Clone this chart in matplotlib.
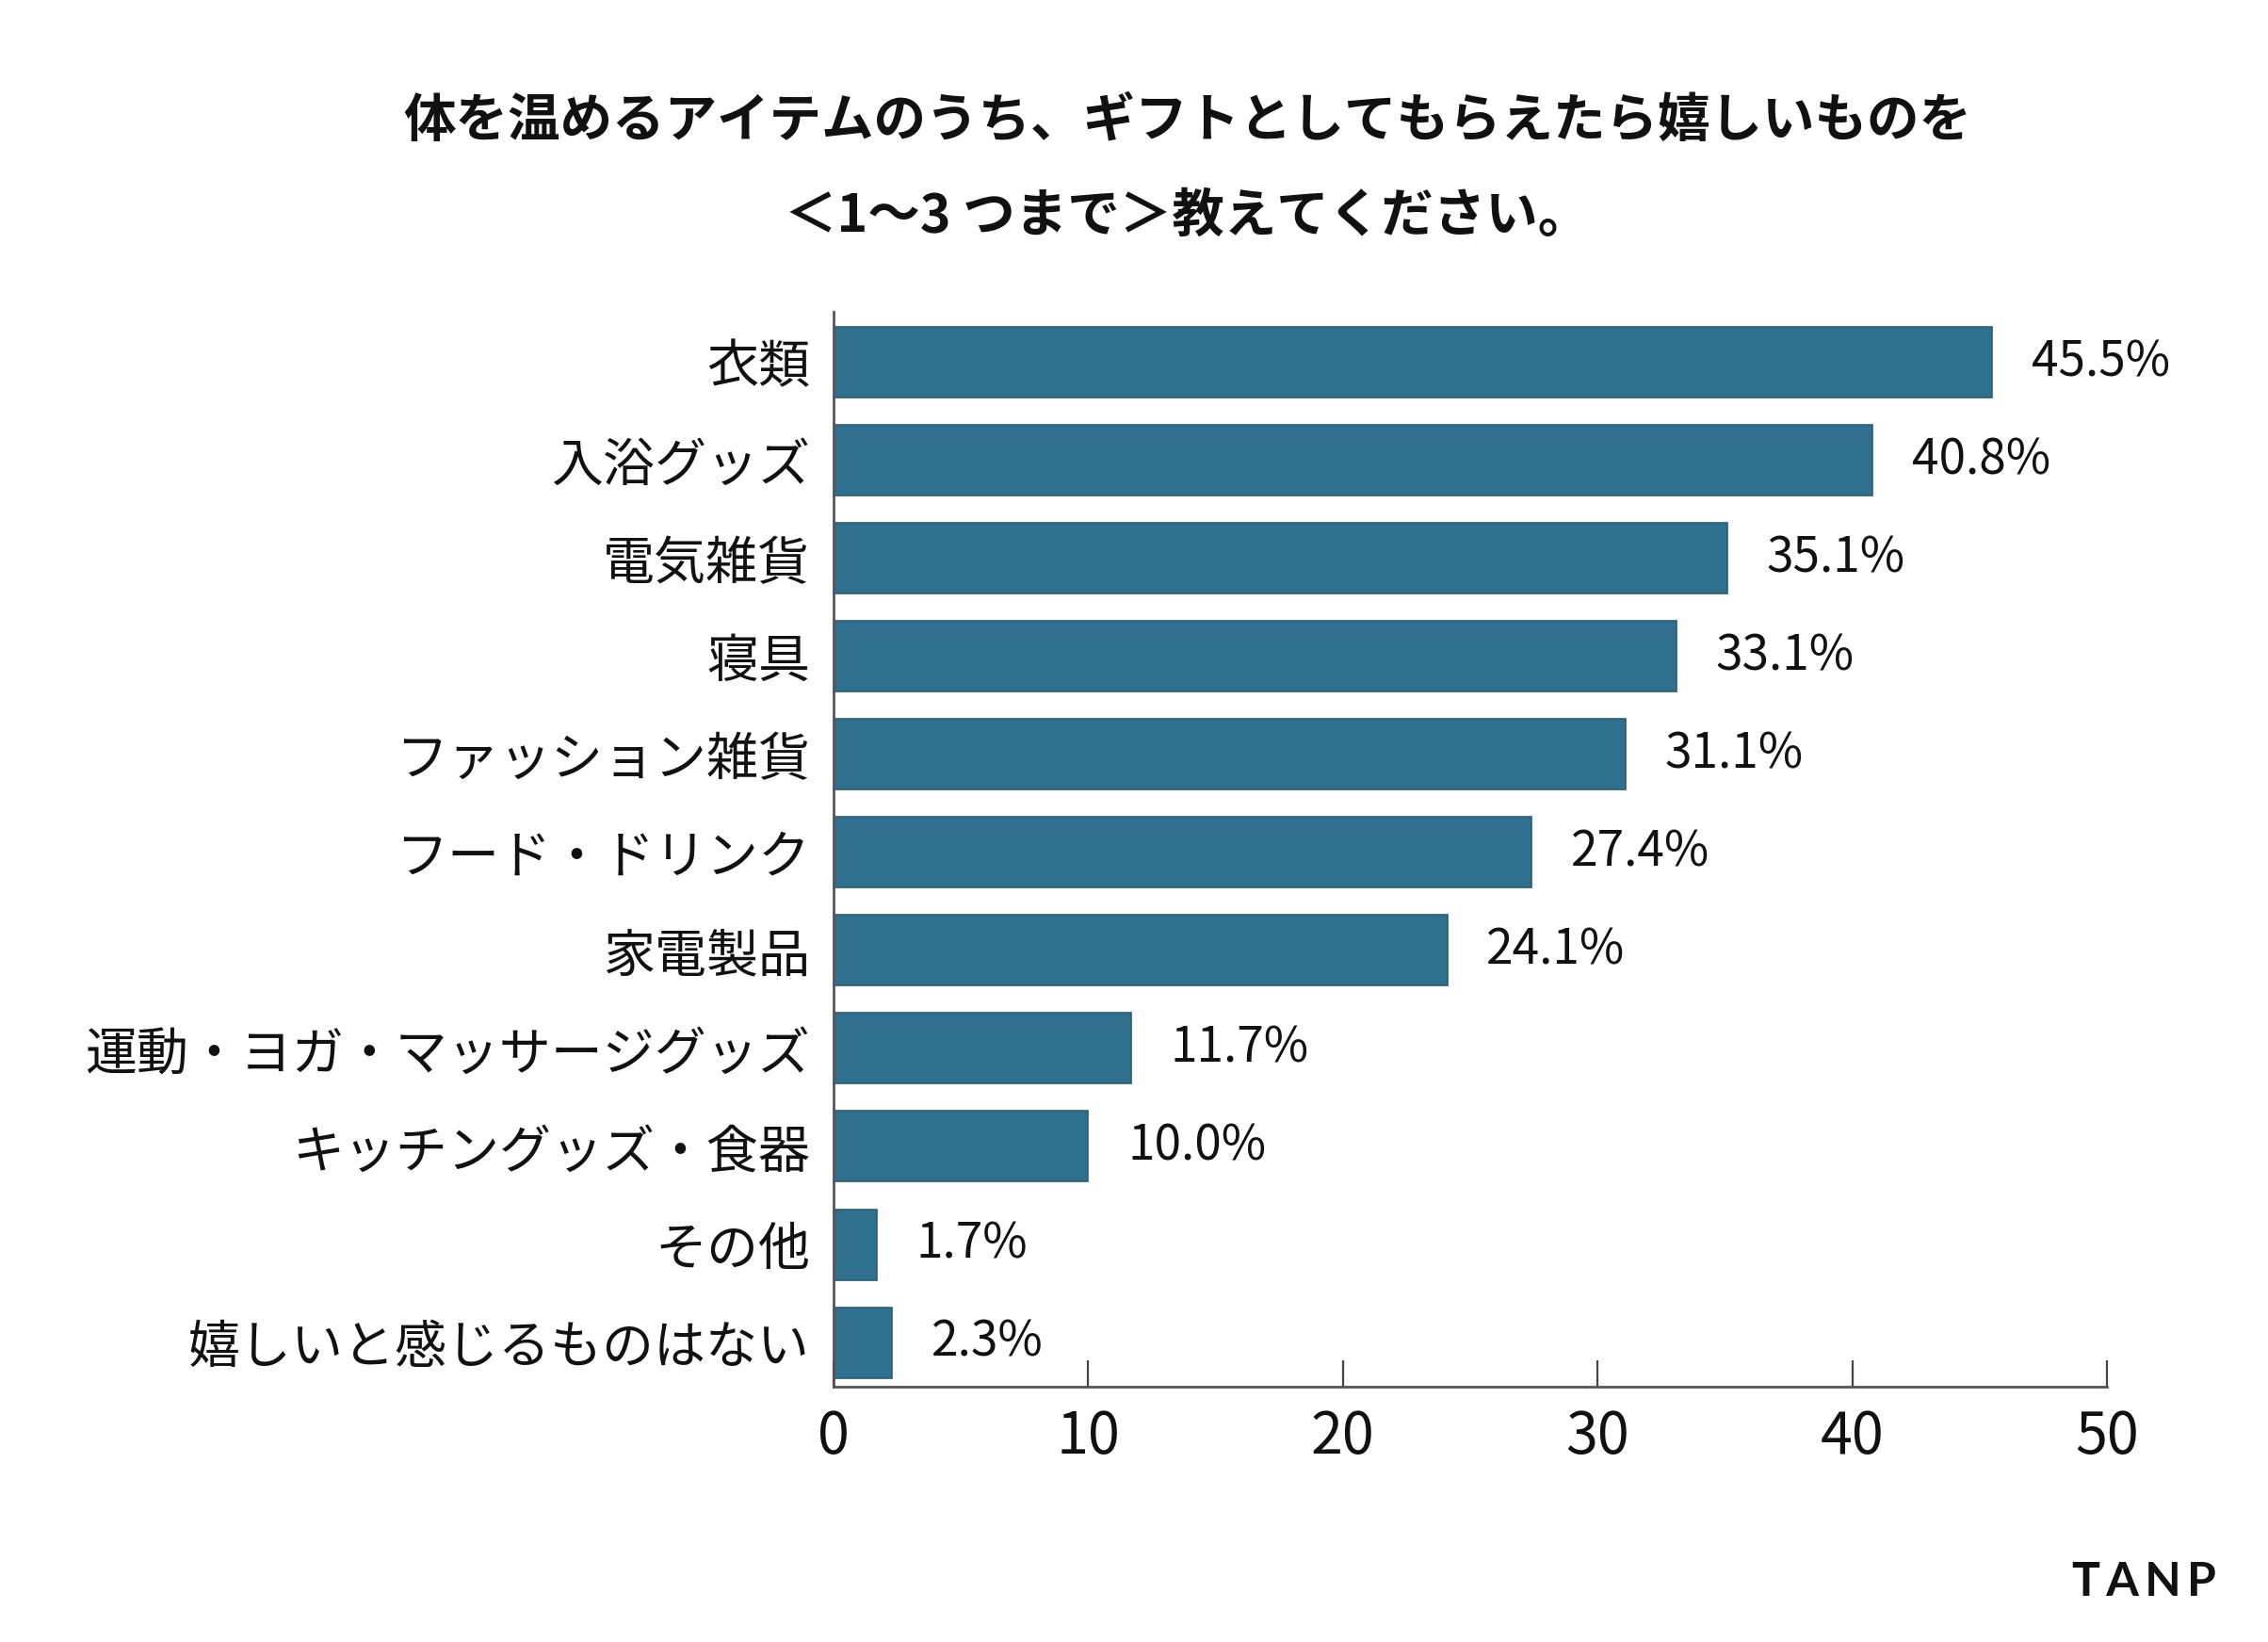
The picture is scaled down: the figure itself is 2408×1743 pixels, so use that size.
import matplotlib
matplotlib.use("Agg")
import matplotlib.pyplot as plt

categories = ["衣類", "入浴グッズ", "電気雑貨", "寝具", "ファッション雑貨", "フード・ドリンク",
              "家電製品", "運動・ヨガ・マッサージグッズ", "キッチングッズ・食器", "その他",
              "嬉しいと感じるものはない"]
values = [45.5, 40.8, 35.1, 33.1, 31.1, 27.4, 24.1, 11.7, 10.0, 1.7, 2.3]
xticks = [0, 10, 20, 30, 40, 50]
title_lines = ["体を温めるアイテムのうち、ギフトとしてもらえたら嬉しいものを",
               "＜1〜3 つまで＞教えてください。"]

cjk = "Noto Sans CJK JP"
plt.rcParams['font.family'] = [cjk, 'DejaVu Sans']

fig = plt.figure(figsize=(12.04, 8.715), dpi=200)
ax = fig.add_axes([0.3675, 0.1555, 0.929 - 0.3675, 0.810 - 0.1555])

ypos = list(range(len(categories)))
ax.barh(ypos, values, height=0.72, color="#30708f", edgecolor="#2a5f78", linewidth=0.6)
ax.set_ylim(len(categories) - 1 + 0.45, -0.51)
ax.set_xlim(0, 50)

for y, v in zip(ypos, values):
    ax.annotate(f"{v:.1f}%", (v, y), xytext=(15, 0), textcoords="offset points",
                ha="left", va="center", fontsize=18.5, family=[cjk, 'DejaVu Sans'],
                color="#111111")

ax.set_yticks(ypos)
ax.set_yticklabels(categories, fontsize=19.8, family=[cjk, 'DejaVu Sans'], color="#111111")
ax.tick_params(axis='y', length=0, pad=9)

ax.set_xticks(xticks)
ax.set_xticklabels([str(t) for t in xticks], fontsize=22, family=[cjk, 'DejaVu Sans'],
                   color="#111111")
ax.tick_params(axis='x', direction='in', length=10, width=0.8, color="#444444", pad=8)

for s in ["top", "right"]:
    ax.spines[s].set_visible(False)
for s in ["left", "bottom"]:
    ax.spines[s].set_color("#555555")
    ax.spines[s].set_linewidth(1.0)

fig.text(0.5235, 1 - 129 / 1743, title_lines[0], ha="center", va="center",
         fontsize=20, fontweight="bold", family=[cjk, 'DejaVu Sans'], color="#111111")
fig.text(0.5235, 1 - 230 / 1743, title_lines[1], ha="center", va="center",
         fontsize=20, fontweight="bold", family=[cjk, 'DejaVu Sans'], color="#111111")

fig.text(2353 / 2408, 1 - 1680 / 1743, "T\u2009A\u2009N\u2009P", ha="right", va="center",
         fontsize=18, fontweight="bold", family=['Lato', 'DejaVu Sans'], color="#111111")

fig.savefig("out.png", dpi=200, facecolor="white")
